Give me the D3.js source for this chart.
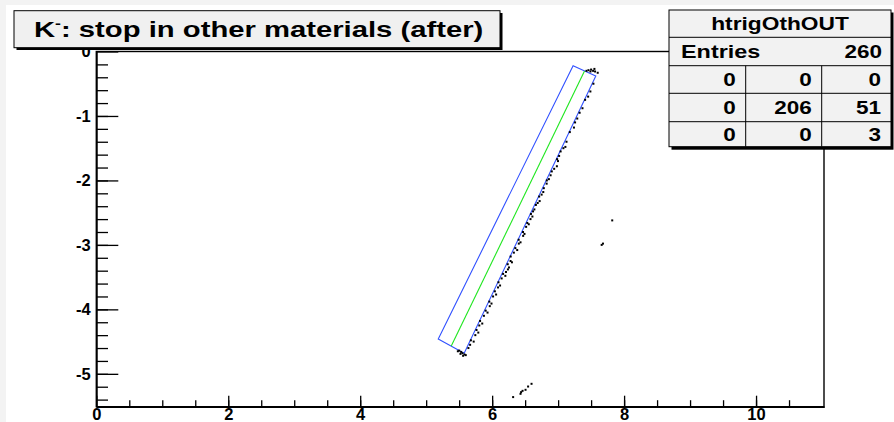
<!DOCTYPE html>
<html>
<head>
<meta charset="utf-8">
<script src="https://cdn.jsdelivr.net/npm/d3@7"></script>
<style>
  body { margin: 0; background: #fff; }
  svg { display: block; }
  text { font-family: "Liberation Sans", Arial, Helvetica, sans-serif; font-weight: bold; }
</style>
</head>
<body>
<div id="chart"></div>
<script>
// hits along the track (x, y)
var hitX = [7.535, 7.489, 7.409, 7.369, 7.326, 7.257, 7.240, 7.177, 7.127, 7.110,
            7.038, 7.015, 6.998, 6.981, 6.904, 6.886, 6.829, 6.826, 6.783, 6.775,
            6.713, 6.720, 6.663, 6.640, 6.588, 6.581, 6.533, 6.515, 6.468, 6.470,
            6.402, 6.404, 6.352, 6.329, 6.281, 6.279, 6.236, 6.239, 6.166, 6.144,
            6.096, 6.089, 6.041, 6.014, 5.957, 5.964, 5.902, 5.875, 5.817, 5.805,
            5.763, 5.745, 5.678, 5.666,
            7.455, 7.290, 7.080, 6.940, 6.860, 6.750, 6.690, 6.610, 6.555, 6.490,
            6.430, 6.380, 6.300, 6.255, 6.200, 6.120, 6.060, 5.990, 5.930, 5.850,
            5.790, 5.720, 5.640, 6.985, 6.620, 6.210,
            5.50, 5.53, 5.55, 5.52, 5.58, 5.56, 5.60, 5.48,
            7.46, 7.50, 7.53, 7.56, 7.49, 7.60, 7.55, 7.43,
            7.82, 7.68, 7.66,
            6.318, 6.430, 6.439, 6.461, 6.506, 6.545, 6.597];
var hitY = [-0.50, -0.62, -0.75, -0.88, -0.95, -1.10, -1.18, -1.25, -1.40, -1.48,
            -1.55, -1.62, -1.70, -1.78, -1.86, -1.92, -2.00, -2.05, -2.12, -2.18,
            -2.25, -2.32, -2.38, -2.45, -2.52, -2.60, -2.66, -2.72, -2.80, -2.86,
            -2.92, -2.98, -3.05, -3.12, -3.18, -3.25, -3.30, -3.38, -3.45, -3.52,
            -3.58, -3.66, -3.72, -3.80, -3.88, -3.95, -4.02, -4.10, -4.18, -4.25,
            -4.32, -4.40, -4.48, -4.55,
            -0.70, -1.04, -1.50, -1.82, -1.98, -2.22, -2.35, -2.56, -2.68, -2.83,
            -2.96, -3.08, -3.27, -3.35, -3.48, -3.63, -3.77, -3.91, -4.05, -4.22,
            -4.36, -4.50, -4.60, -1.67, -2.48, -3.42,
            -4.64, -4.66, -4.68, -4.69, -4.70, -4.72, -4.71, -4.65,
            -0.29, -0.28, -0.30, -0.31, -0.31, -0.33, -0.27, -0.30,
            -2.62, -2.98, -3.00,
            -5.361, -5.310, -5.284, -5.264, -5.248, -5.197, -5.155];

// volume outline (corners) and its axis
var boxX = [7.227, 7.571, 5.576, 5.183];
var boxY = [-0.22, -0.38, -4.68, -4.46];
var axisX = [7.400, 5.380];
var axisY = [-0.301, -4.570];

var titleText = ": stop in other materials (after)";
var statsName = "htrigOthOUT";
var statsEntries = 260;
var statsGrid = [[0, 0, 0], [0, 206, 51], [0, 0, 3]];

var W = 894, H = 422;
var svg = d3.select("#chart").append("svg").attr("width", W).attr("height", H);

svg.append("rect").attr("width", W).attr("height", H).attr("fill", "#f3f3f3");
svg.append("rect").attr("x", 6).attr("y", 5).attr("width", W - 6).attr("height", H - 5).attr("fill", "#fff");

var x = d3.scaleLinear().domain([0, 11.03]).range([96.3, 824]);
var y = d3.scaleLinear().domain([-5.51, 0]).range([406.7, 51.5]);

// text that is stretched sideways like the original canvas
function wideText(parent, px, py, anchor, size, k, str) {
  var g = parent.append("g").attr("transform", "translate(" + px + "," + py + ") scale(" + k + ",1)");
  return g.append("text").attr("text-anchor", anchor).attr("font-size", size).attr("fill", "#000").text(str);
}

// frame
svg.append("rect")
   .attr("x", x(0)).attr("y", y(0))
   .attr("width", x(11.03) - x(0)).attr("height", y(-5.51) - y(0))
   .attr("fill", "none").attr("stroke", "#000").attr("stroke-width", 1.4);

// x axis: major + minor ticks pointing up
var gx = svg.append("g").attr("transform", "translate(0," + y(-5.51) + ")");
gx.call(d3.axisBottom(x).tickValues([0, 2, 4, 6, 8, 10]).tickSizeInner(-11).tickSizeOuter(0)
        .tickPadding(1.5).tickFormat(function (d) { return String(d); }));
gx.append("g").call(d3.axisBottom(x).tickValues(d3.range(0.5, 11, 0.5)).tickSizeInner(-6.5)
        .tickSizeOuter(0).tickFormat(""));
gx.selectAll("text").attr("font-size", 16.5).attr("fill", "#000");

// y axis: major + minor ticks pointing right
var gy = svg.append("g").attr("transform", "translate(" + x(0) + ",0)");
gy.call(d3.axisLeft(y).tickValues([0, -1, -2, -3, -4, -5]).tickSizeInner(-22).tickSizeOuter(0)
        .tickPadding(5.6).tickFormat(function (d) { return String(d); }));
gy.append("g").call(d3.axisLeft(y).tickValues(d3.range(-5.4, 0, 0.2)).tickSizeInner(-11.7)
        .tickSizeOuter(0).tickFormat(""));
gy.selectAll("text").attr("font-size", 16.5).attr("fill", "#000");
svg.selectAll(".domain").attr("stroke", "#000").attr("stroke-width", 1.4);
svg.selectAll(".tick line").attr("stroke", "#000").attr("stroke-width", 1.3);

// volume outline
var boxPts = boxX.map(function (v, i) { return [x(v), y(boxY[i])]; });
svg.append("path")
   .attr("d", d3.line()(boxPts) + "Z")
   .attr("fill", "none").attr("stroke", "#3050ff").attr("stroke-width", 1.1);
svg.append("path")
   .attr("d", d3.line()(axisX.map(function (v, i) { return [x(v), y(axisY[i])]; })))
   .attr("fill", "none").attr("stroke", "#1ee61e").attr("stroke-width", 1.1);

// hits
svg.append("g").selectAll("rect").data(hitX).enter().append("rect")
   .attr("x", function (d) { return x(d) - 1; })
   .attr("y", function (d, i) { return y(hitY[i]) - 1; })
   .attr("width", 2).attr("height", 2)
   .attr("fill", "#000");

// title box
var tb = svg.append("g");
tb.append("rect").attr("x", 16.5).attr("y", 13).attr("width", 486).attr("height", 37).attr("fill", "#000");
tb.append("rect").attr("x", 14).attr("y", 10.7).attr("width", 486).attr("height", 37)
  .attr("fill", "#f0f0f0").attr("stroke", "#000").attr("stroke-width", 1);
var tt = wideText(tb, 34, 36.5, "start", 21.5, 1.36, null);
tt.append("tspan").text("K");
tt.append("tspan").attr("font-size", 13).attr("dy", -9).text("-");
tt.append("tspan").attr("dy", 9).text(titleText);

// stats box
var sx = 669, sy = 10, sw = 222;
var rowY = [10, 37.3, 65.7, 93.3, 121.7, 146.7];
var colX = [669, 745.7, 821.7, 891];
var sb = svg.append("g");
sb.append("rect").attr("x", sx + 2.5).attr("y", sy + 2.5).attr("width", sw).attr("height", rowY[5] - sy + 0.5).attr("fill", "#000");
sb.append("rect").attr("x", sx).attr("y", sy).attr("width", sw).attr("height", rowY[5] - sy)
  .attr("fill", "#f2f2f2").attr("stroke", "#000").attr("stroke-width", 1);
sb.selectAll("line.row").data(rowY.slice(1, 5)).enter().append("line")
  .attr("x1", sx).attr("x2", sx + sw).attr("y1", function (d) { return d; }).attr("y2", function (d) { return d; })
  .attr("stroke", "#000").attr("stroke-width", 1);
sb.selectAll("line.col").data(colX.slice(1, 3)).enter().append("line")
  .attr("x1", function (d) { return d; }).attr("x2", function (d) { return d; })
  .attr("y1", rowY[2]).attr("y2", rowY[5])
  .attr("stroke", "#000").attr("stroke-width", 1);
wideText(sb, 780, (rowY[0] + rowY[1]) / 2 + 6.5, "middle", 17.5, 1.3, statsName);
wideText(sb, 681, (rowY[1] + rowY[2]) / 2 + 6.5, "start", 18, 1.3, "Entries");
wideText(sb, 882, (rowY[1] + rowY[2]) / 2 + 6.5, "end", 18, 1.25, statsEntries);
statsGrid.forEach(function (row, r) {
  row.forEach(function (v, c) {
    wideText(sb, colX[c + 1] - 10, (rowY[r + 2] + rowY[r + 3]) / 2 + 6.5, "end", 18, 1.25, v);
  });
});
</script>
</body>
</html>
